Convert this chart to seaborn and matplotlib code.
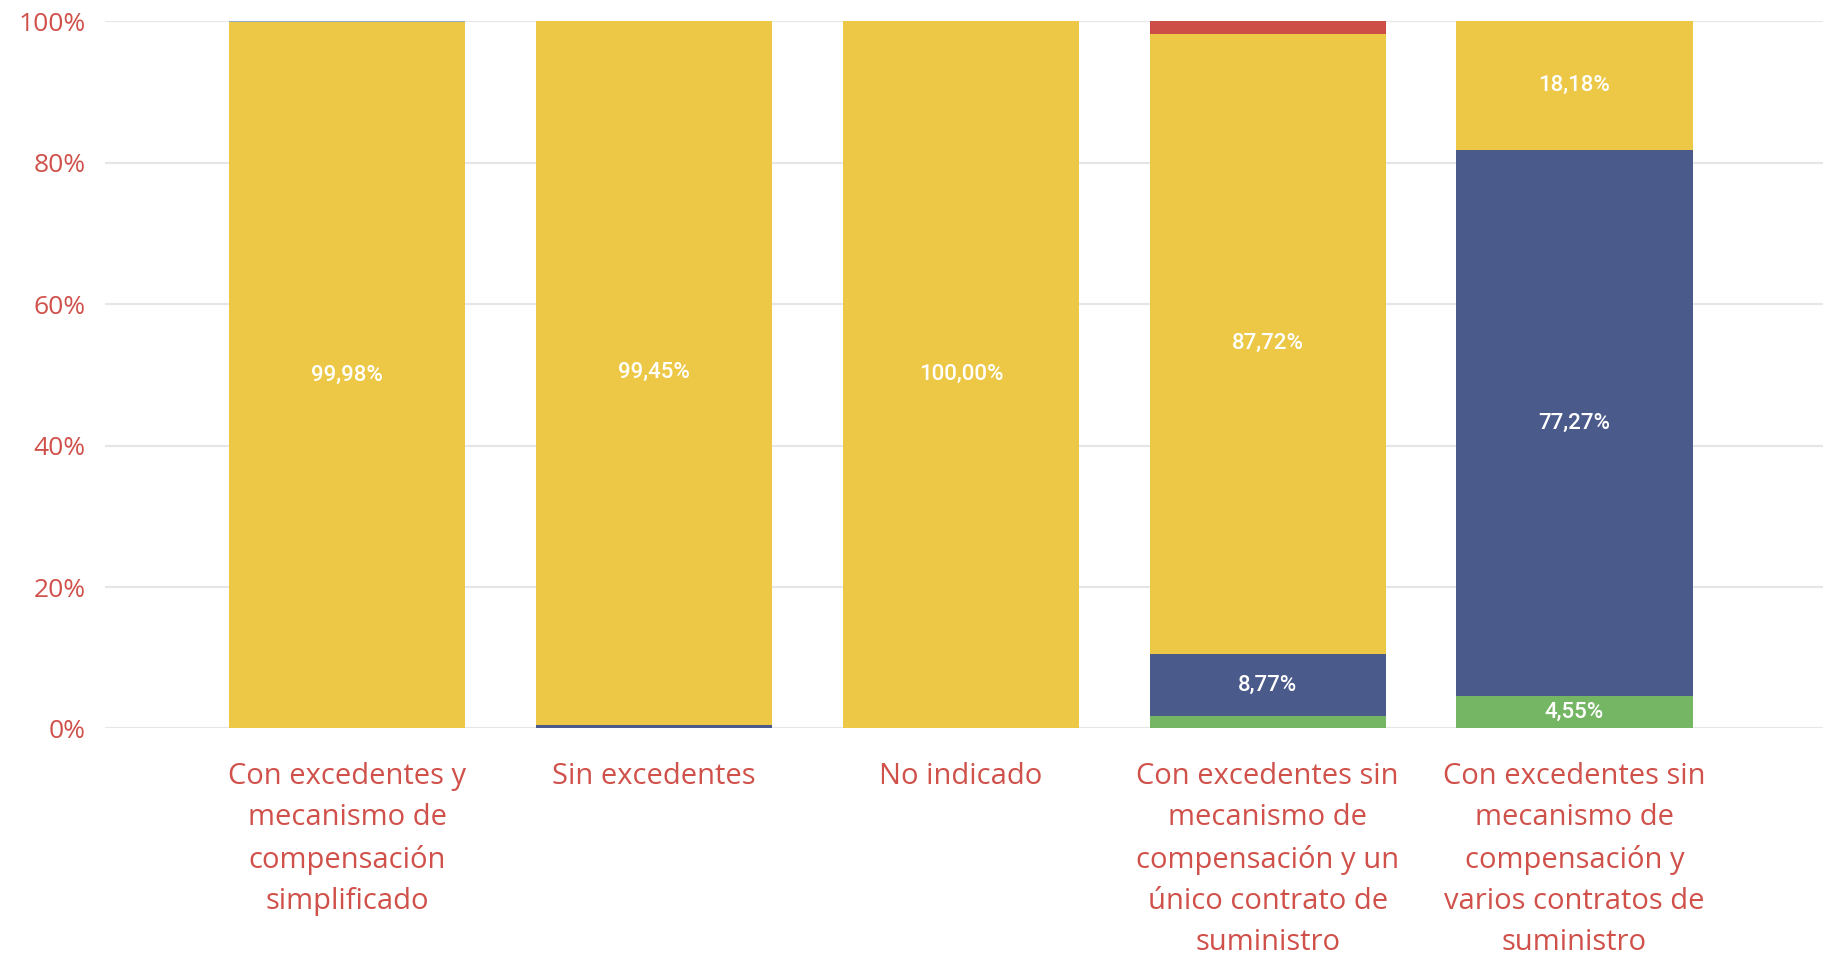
import numpy as np
import pandas as pd
import matplotlib
matplotlib.use('Agg')
import matplotlib.pyplot as plt
import seaborn as sns

sns.set_style('white')
plt.rcParams['font.family'] = ['Open Sans', 'DejaVu Sans']

categorias = [
    'Con excedentes y\nmecanismo de\ncompensación\nsimplificado',
    'Sin excedentes',
    'No indicado',
    'Con excedentes sin\nmecanismo de\ncompensación y un\núnico contrato de\nsuministro',
    'Con excedentes sin\nmecanismo de\ncompensación y\nvarios contratos de\nsuministro',
]

# stacked from bottom to top (percent)
serie_verde = [0.0, 0.0, 0.0, 1.75, 4.55]
serie_azul = [0.0, 0.55, 0.0, 8.77, 77.27]
serie_amarilla = [99.98, 99.45, 100.0, 87.72, 18.18]
serie_roja = [0.0, 0.0, 0.0, 1.75, 0.0]
serie_celeste = [0.02, 0.0, 0.0, 0.0, 0.0]

series = [serie_verde, serie_azul, serie_amarilla, serie_roja, serie_celeste]
colores = ['#74b663', '#4a5a8a', '#ecc846', '#cc4e47', '#7aa6d4']

rojo_txt = '#d0504a'

fig = plt.figure(figsize=(18.36, 9.58), dpi=100)
ax = fig.add_axes([0.0572, 0.2396, 0.9357, 0.7383])

bottom = np.zeros(len(categorias))
for vals, col in zip(series, colores):
    vals = np.array(vals) / 100
    df = pd.DataFrame({'cat': categorias, 'val': vals})
    # tiny slices still get a hairline so they stay visible
    lw = 1.2 if col == '#7aa6d4' else 0
    sns.barplot(data=df, x='cat', y='val', order=categorias, color=col,
                width=0.77, bottom=bottom, saturation=1, ax=ax,
                linewidth=lw, edgecolor=col)
    for i, v in enumerate(vals):
        if v * 100 > 3:
            txt = f'{v*100:.2f}%'.replace('.', ',')
            ax.text(i, bottom[i] + v / 2, txt, ha='center', va='center',
                    color='white', fontsize=16, fontweight='medium',
                    family=['Roboto', 'DejaVu Sans'])
    bottom = bottom + vals

# empty segments should not leave an outline
for p in ax.patches:
    if p.get_height() == 0:
        p.set_linewidth(0)

ax.set_ylim(0, 1)
ax.set_xlim(-0.79, 4.81)
ax.set_yticks(np.arange(0, 1.01, 0.2))
ax.set_yticklabels([f'{int(t*100)}%' for t in np.arange(0, 1.01, 0.2)],
                   color=rojo_txt, fontsize=19)
ax.tick_params(axis='y', length=0, pad=14)
ax.tick_params(axis='x', length=0, pad=24)
for lbl in ax.get_xticklabels():
    lbl.set_color(rojo_txt)
    lbl.set_fontsize(21)
    lbl.set_linespacing(1.55)
ax.set_xlabel('')
ax.set_ylabel('')
for s in ax.spines.values():
    s.set_visible(False)
ax.yaxis.grid(True, color='#e6e6e6', linewidth=1.5)
ax.set_axisbelow(True)

fig.savefig('out.png', dpi=100)
